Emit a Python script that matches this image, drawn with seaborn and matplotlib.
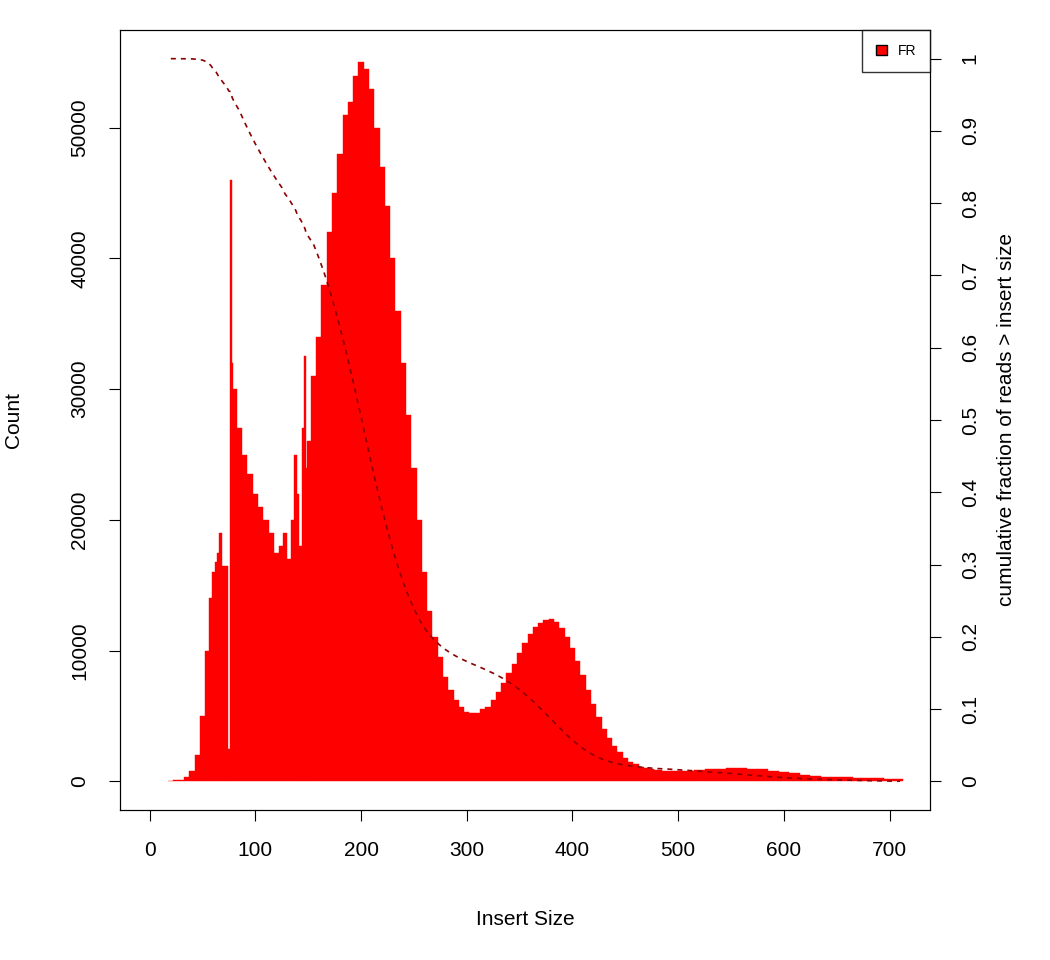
import numpy as np
import pandas as pd
import seaborn as sns
import matplotlib
matplotlib.use("Agg")
import matplotlib.pyplot as plt
from matplotlib.patches import Patch

plt.rcParams['font.family'] = ['Liberation Sans', 'DejaVu Sans']

# insert sizes (bin centres) and counts
insert_size = [20, 25, 30, 35, 40, 45, 50, 55, 58, 60, 63, 65, 67, 70, 73, 75, 77, 78, 80, 85,
               90, 95, 100, 105, 110, 115, 120, 125, 128, 132, 135, 138, 140, 143, 145, 147, 148, 150,
               155, 160, 165, 170, 175, 180, 185, 190, 195, 200, 205, 210, 215, 220, 225, 230,
               235, 240, 245, 250, 255, 260, 265, 270, 275, 280, 285, 290, 295, 300, 305, 310,
               315, 320, 325, 330, 335, 340, 345, 350, 355, 360, 365, 370, 375, 380, 385, 390,
               395, 400, 405, 410, 415, 420, 425, 430, 435, 440, 445, 450, 455, 460, 465, 470,
               475, 480, 490, 500, 510, 520, 530, 540, 550, 560, 570, 580, 590, 600, 610, 620,
               630, 640, 650, 660, 670, 680, 690, 700, 710]
counts = [50, 80, 100, 300, 800, 2000, 5000, 10000, 14000, 16000, 16800, 17500, 19000, 16500, 16500,
          2500, 46000, 32000, 30000, 27000, 25000, 23500, 22000, 21000, 20000, 19000, 17500, 18000,
          19000, 17000, 20000, 25000, 22000, 18000, 27000, 32500, 24000, 26000, 31000, 34000, 38000,
          42000, 45000, 48000, 51000, 52000, 54000, 55000, 54500, 53000, 50000, 47000, 44000, 40000,
          36000, 32000, 28000, 24000, 20000, 16000, 13000, 11000, 9500, 8000, 7000, 6200, 5700,
          5300, 5200, 5200, 5500, 5700, 6200, 6800, 7500, 8300, 9000, 9800, 10600, 11300, 11800,
          12100, 12300, 12400, 12200, 11700, 11000, 10200, 9200, 8100, 7000, 5900, 4900, 4000,
          3300, 2700, 2200, 1800, 1500, 1300, 1100, 1000, 900, 850, 800, 800, 800, 850, 900, 950,
          1000, 1000, 950, 900, 800, 700, 600, 500, 420, 350, 320, 300, 270, 250, 220, 200, 200]

df = pd.DataFrame({"insert": insert_size, "count": counts})
xs = np.array(insert_size, float)
mids = (xs[1:] + xs[:-1]) / 2
edges_arr = np.concatenate([[xs[0] - 2.5], mids, [xs[-1] + 2.5]])
edges = [float(v) for v in edges_arr]
widths = np.diff(edges_arr)

fig = plt.figure(figsize=(10.5, 9.6), dpi=100)
ax = fig.add_axes([0.114, 0.156, 0.772, 0.813])
sns.histplot(data=df, x="insert", weights="count", bins=edges, color="red",
             element="bars", edgecolor="red", linewidth=0.3, alpha=1, ax=ax)
ax.set_xlim(-28.4, 738.6)
ax.set_ylim(-2220, 57500)
ax.set_xticks(range(0, 701, 100))
ax.set_yticks(range(0, 50001, 10000))
ax.set_xlabel("Insert Size", fontsize=15, labelpad=36)
ax.set_ylabel("Count", fontsize=15, labelpad=34)
ax.tick_params(labelsize=15, length=8, pad=14)
plt.setp(ax.get_yticklabels(), rotation=90, va="center")

reads = np.array(counts) * widths
cum = 1 - np.concatenate([[0], np.cumsum(reads)[:-1]]) / reads.sum()
ax2 = ax.twinx()
sns.lineplot(x=insert_size, y=cum, ax=ax2, color="#8b0000", linestyle=(0, (3, 3)), linewidth=1.2)
ax2.set_ylim(-0.040, 1.040)
ax2.set_yticks(np.round(np.arange(0, 1.01, 0.1), 1))
ax2.set_yticklabels(["0"] + [f"{v:.1f}" for v in np.arange(0.1, 0.95, 0.1)] + ["1"])
ax2.set_ylabel("cumulative fraction of reads > insert size", fontsize=15, labelpad=12)
ax2.tick_params(labelsize=15, length=8, pad=14)
plt.setp(ax2.get_yticklabels(), rotation=90, va="center")

leg = ax2.legend(handles=[Patch(facecolor="red", edgecolor="black", label="FR")],
                 loc="upper right", fontsize=10, frameon=True, fancybox=False,
                 borderaxespad=0, handlelength=0.8, handleheight=0.8, borderpad=1.0)
leg.get_frame().set_edgecolor("black")
fig.savefig("out.png", dpi=100)
